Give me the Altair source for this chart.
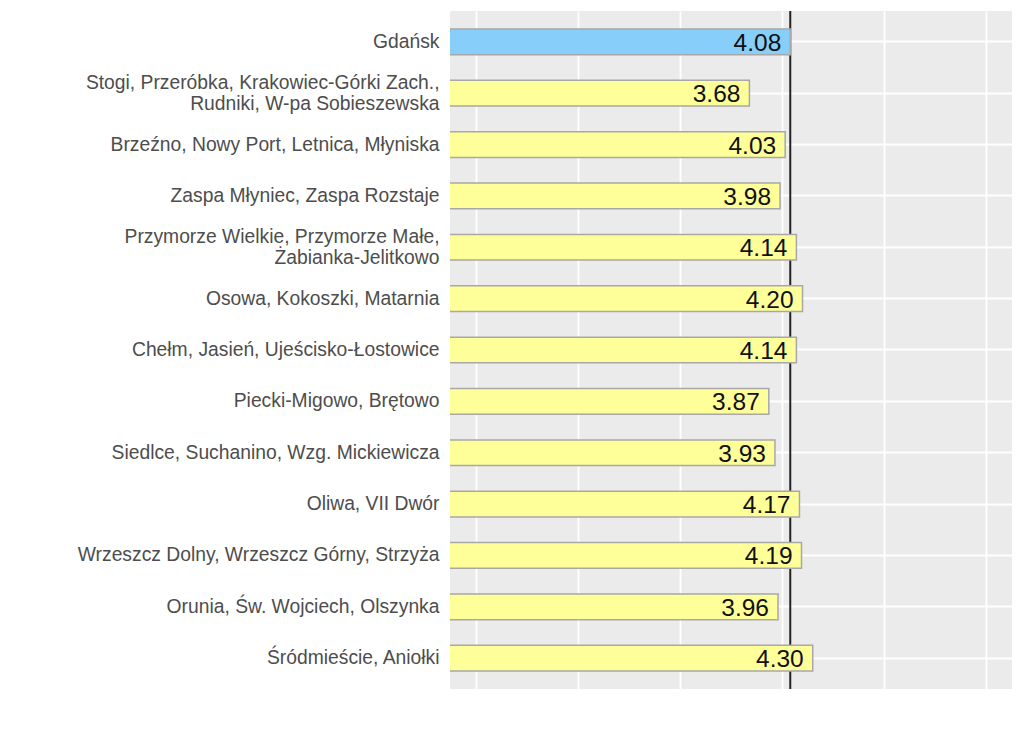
import altair as alt
import pandas as pd

categories = [
    "Gdańsk",
    "Stogi, Przeróbka, Krakowiec-Górki Zach.,\nRudniki, W-pa Sobieszewska",
    "Brzeźno, Nowy Port, Letnica, Młyniska",
    "Zaspa Młyniec, Zaspa Rozstaje",
    "Przymorze Wielkie, Przymorze Małe,\nŻabianka-Jelitkowo",
    "Osowa, Kokoszki, Matarnia",
    "Chełm, Jasień, Ujeścisko-Łostowice",
    "Piecki-Migowo, Brętowo",
    "Siedlce, Suchanino, Wzg. Mickiewicza",
    "Oliwa, VII Dwór",
    "Wrzeszcz Dolny, Wrzeszcz Górny, Strzyża",
    "Orunia, Św. Wojciech, Olszynka",
    "Śródmieście, Aniołki",
]
values = [4.08, 3.68, 4.03, 3.98, 4.14, 4.20, 4.14, 3.87, 3.93, 4.17, 4.19, 3.96, 4.30]
groups = ["city"] + ["district"] * (len(categories) - 1)
reference_value = [4.08]
x_domain = [0.75, 6.25]
grid_values = [1, 2, 3, 4, 5, 6]

df = pd.DataFrame({"cat": categories, "value": values, "group": groups})
ref = pd.DataFrame({"ref": reference_value})

FONT = "Liberation Sans"

y_enc = alt.Y(
    "cat:N",
    sort=categories,
    title=None,
    scale=alt.Scale(paddingInner=0.5, paddingOuter=0.35),
    axis=alt.Axis(
        labelExpr="split(datum.label, '\\n')",
        labelFont=FONT,
        labelFontSize=19.3,
        labelColor="#4d4d4d",
        labelLineHeight=20.5,
        labelOffset={
            "condition": {"test": "indexof(datum.value, '\\n') >= 0", "value": -10},
            "value": 0,
        },
        labelPadding=11,
        labelLimit=500,
        ticks=False,
        domain=False,
        grid=True,
        gridColor="white",
        gridWidth=1.8,
        bandPosition=0.5,
    ),
)

x_scale = alt.Scale(domain=x_domain, nice=False, zero=False)
x_axis = alt.Axis(
    labels=False,
    ticks=False,
    domain=False,
    title=None,
    grid=True,
    gridColor="white",
    gridWidth=1.8,
    values=grid_values,
)

rule = alt.Chart(ref).mark_rule(color="#222222", strokeWidth=2).encode(
    x=alt.X("ref:Q", scale=x_scale, axis=x_axis),
)

bars = alt.Chart(df).mark_bar(
    stroke="#a8a8a8", strokeWidth=1.5, clip=True
).encode(
    x=alt.X("value:Q", scale=x_scale, axis=x_axis),
    x2=alt.datum(0),
    y=y_enc,
    color=alt.Color(
        "group:N",
        scale=alt.Scale(domain=["city", "district"], range=["#87cefa", "#ffff99"]),
        legend=None,
    ),
)

labels = alt.Chart(df).mark_text(
    align="right", baseline="middle", dx=-9, dy=2, font=FONT, fontSize=24.5, color="#111111"
).encode(
    x=alt.X("value:Q", scale=x_scale, axis=x_axis),
    y=alt.Y("cat:N", sort=categories),
    text=alt.Text("value:Q", format=".2f"),
)

chart = alt.layer(rule, bars, labels).properties(
    width=562,
    height=678,
    autosize=alt.AutoSizeParams(type="none"),
    padding={"left": 450, "top": 11, "right": 11, "bottom": 51},
    background="white",
).configure_view(
    fill="#ebebeb", stroke=None
)

chart.save("out.html", embed_options={"renderer": "svg", "actions": False})
